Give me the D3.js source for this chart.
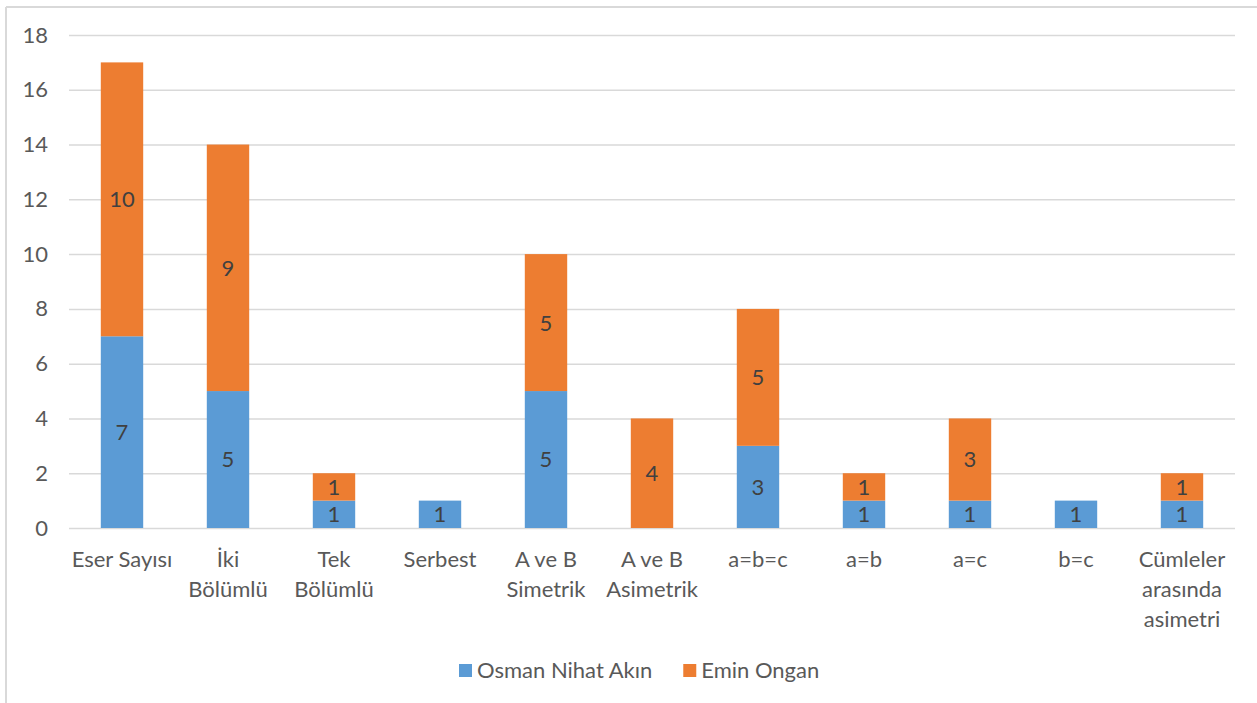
<!DOCTYPE html>
<html>
<head>
<meta charset="utf-8">
<script src="https://cdn.jsdelivr.net/npm/d3@7"></script>
<style>
html,body{margin:0;padding:0;background:#fff;}
svg{display:block;}
</style>
</head>
<body>
<svg id="chart" width="1257" height="703"></svg>
<script>
const categories = ["Eser Sayısı","İki\nBölümlü","Tek\nBölümlü","Serbest","A ve B\nSimetrik","A ve B\nAsimetrik","a=b=c","a=b","a=c","b=c","Cümleler\narasında\nasimetri"];
const osmanValues = [7,5,1,1,5,0,3,1,1,1,1];
const eminValues = [10,9,1,0,5,4,5,1,3,0,1];
const seriesNames = ["Osman Nihat Akın","Emin Ongan"];
const yTicks = [0,2,4,6,8,10,12,14,16,18];

const colors = ["#5B9BD5","#ED7D31"];
const FONT = "Lato, 'Open Sans', sans-serif";
const FS = "22px";

const svg = d3.select("#chart");

// outer chart border (partially visible)
svg.append("line").attr("x1",6).attr("x2",1257).attr("y1",7).attr("y2",7)
  .attr("stroke","#D9D9D9").attr("stroke-width",2);
svg.append("line").attr("x1",6).attr("x2",6).attr("y1",7).attr("y2",703)
  .attr("stroke","#D9D9D9").attr("stroke-width",2);

const x = d3.scaleBand().domain(categories).range([69,1235]).paddingInner(0.6).paddingOuter(0.3);
const y = d3.scaleLinear().domain([0,18]).range([528,35]);

// gridlines + y tick labels
const yAxis = d3.axisLeft(y).tickValues(yTicks).tickSize(-(1235-69)).tickPadding(21).tickFormat(d3.format("d"));
const gy = svg.append("g").attr("transform","translate(69,0)").call(yAxis);
gy.select(".domain").remove();
gy.selectAll(".tick line").attr("stroke","#D9D9D9").attr("stroke-width",1.5);
gy.selectAll(".tick text").attr("fill","#595959").style("font-family",FONT).style("font-size",FS);

// stacked data
const rows = categories.map((c,i)=>({cat:c, osman:osmanValues[i], emin:eminValues[i]}));
const stack = d3.stack().keys(["osman","emin"])(rows);

const layers = svg.append("g").selectAll("g").data(stack).join("g").attr("fill",(d,i)=>colors[i]);
layers.selectAll("rect").data(d=>d.filter(p=>p[1]-p[0]>0)).join("rect")
  .attr("x",d=>x(d.data.cat))
  .attr("width",x.bandwidth())
  .attr("y",d=>y(d[1]))
  .attr("height",d=>y(d[0])-y(d[1]));

// data labels
const labG = svg.append("g");
stack.forEach(layer=>{
  layer.forEach(p=>{
    const v = p[1]-p[0];
    if(v<=0) return;
    labG.append("text")
      .attr("x",x(p.data.cat)+x.bandwidth()/2)
      .attr("y",(y(p[0])+y(p[1]))/2)
      .attr("dy","0.36em")
      .attr("text-anchor","middle")
      .attr("fill","#404040")
      .style("font-family",FONT).style("font-size",FS)
      .text(v);
  });
});

// category labels
const catG = svg.append("g");
categories.forEach(c=>{
  const lines = c.split("\n");
  const t = catG.append("text")
    .attr("text-anchor","middle")
    .attr("fill","#595959")
    .style("font-family",FONT).style("font-size",FS);
  lines.forEach((ln,j)=>{
    t.append("tspan").attr("x",x(c)+x.bandwidth()/2).attr("y",567+j*30).text(ln);
  });
});

// legend
const leg = svg.append("g");
let lx = 459;
seriesNames.forEach((name,i)=>{
  leg.append("rect").attr("x",lx).attr("y",664).attr("width",13).attr("height",13).attr("fill",colors[i]);
  const t = leg.append("text").attr("x",lx+18).attr("y",678)
    .attr("fill","#595959").style("font-family",FONT).style("font-size",FS).text(name);
  const w = t.node().getComputedTextLength();
  lx = lx + 18 + w + 31;
});
</script>
</body>
</html>
